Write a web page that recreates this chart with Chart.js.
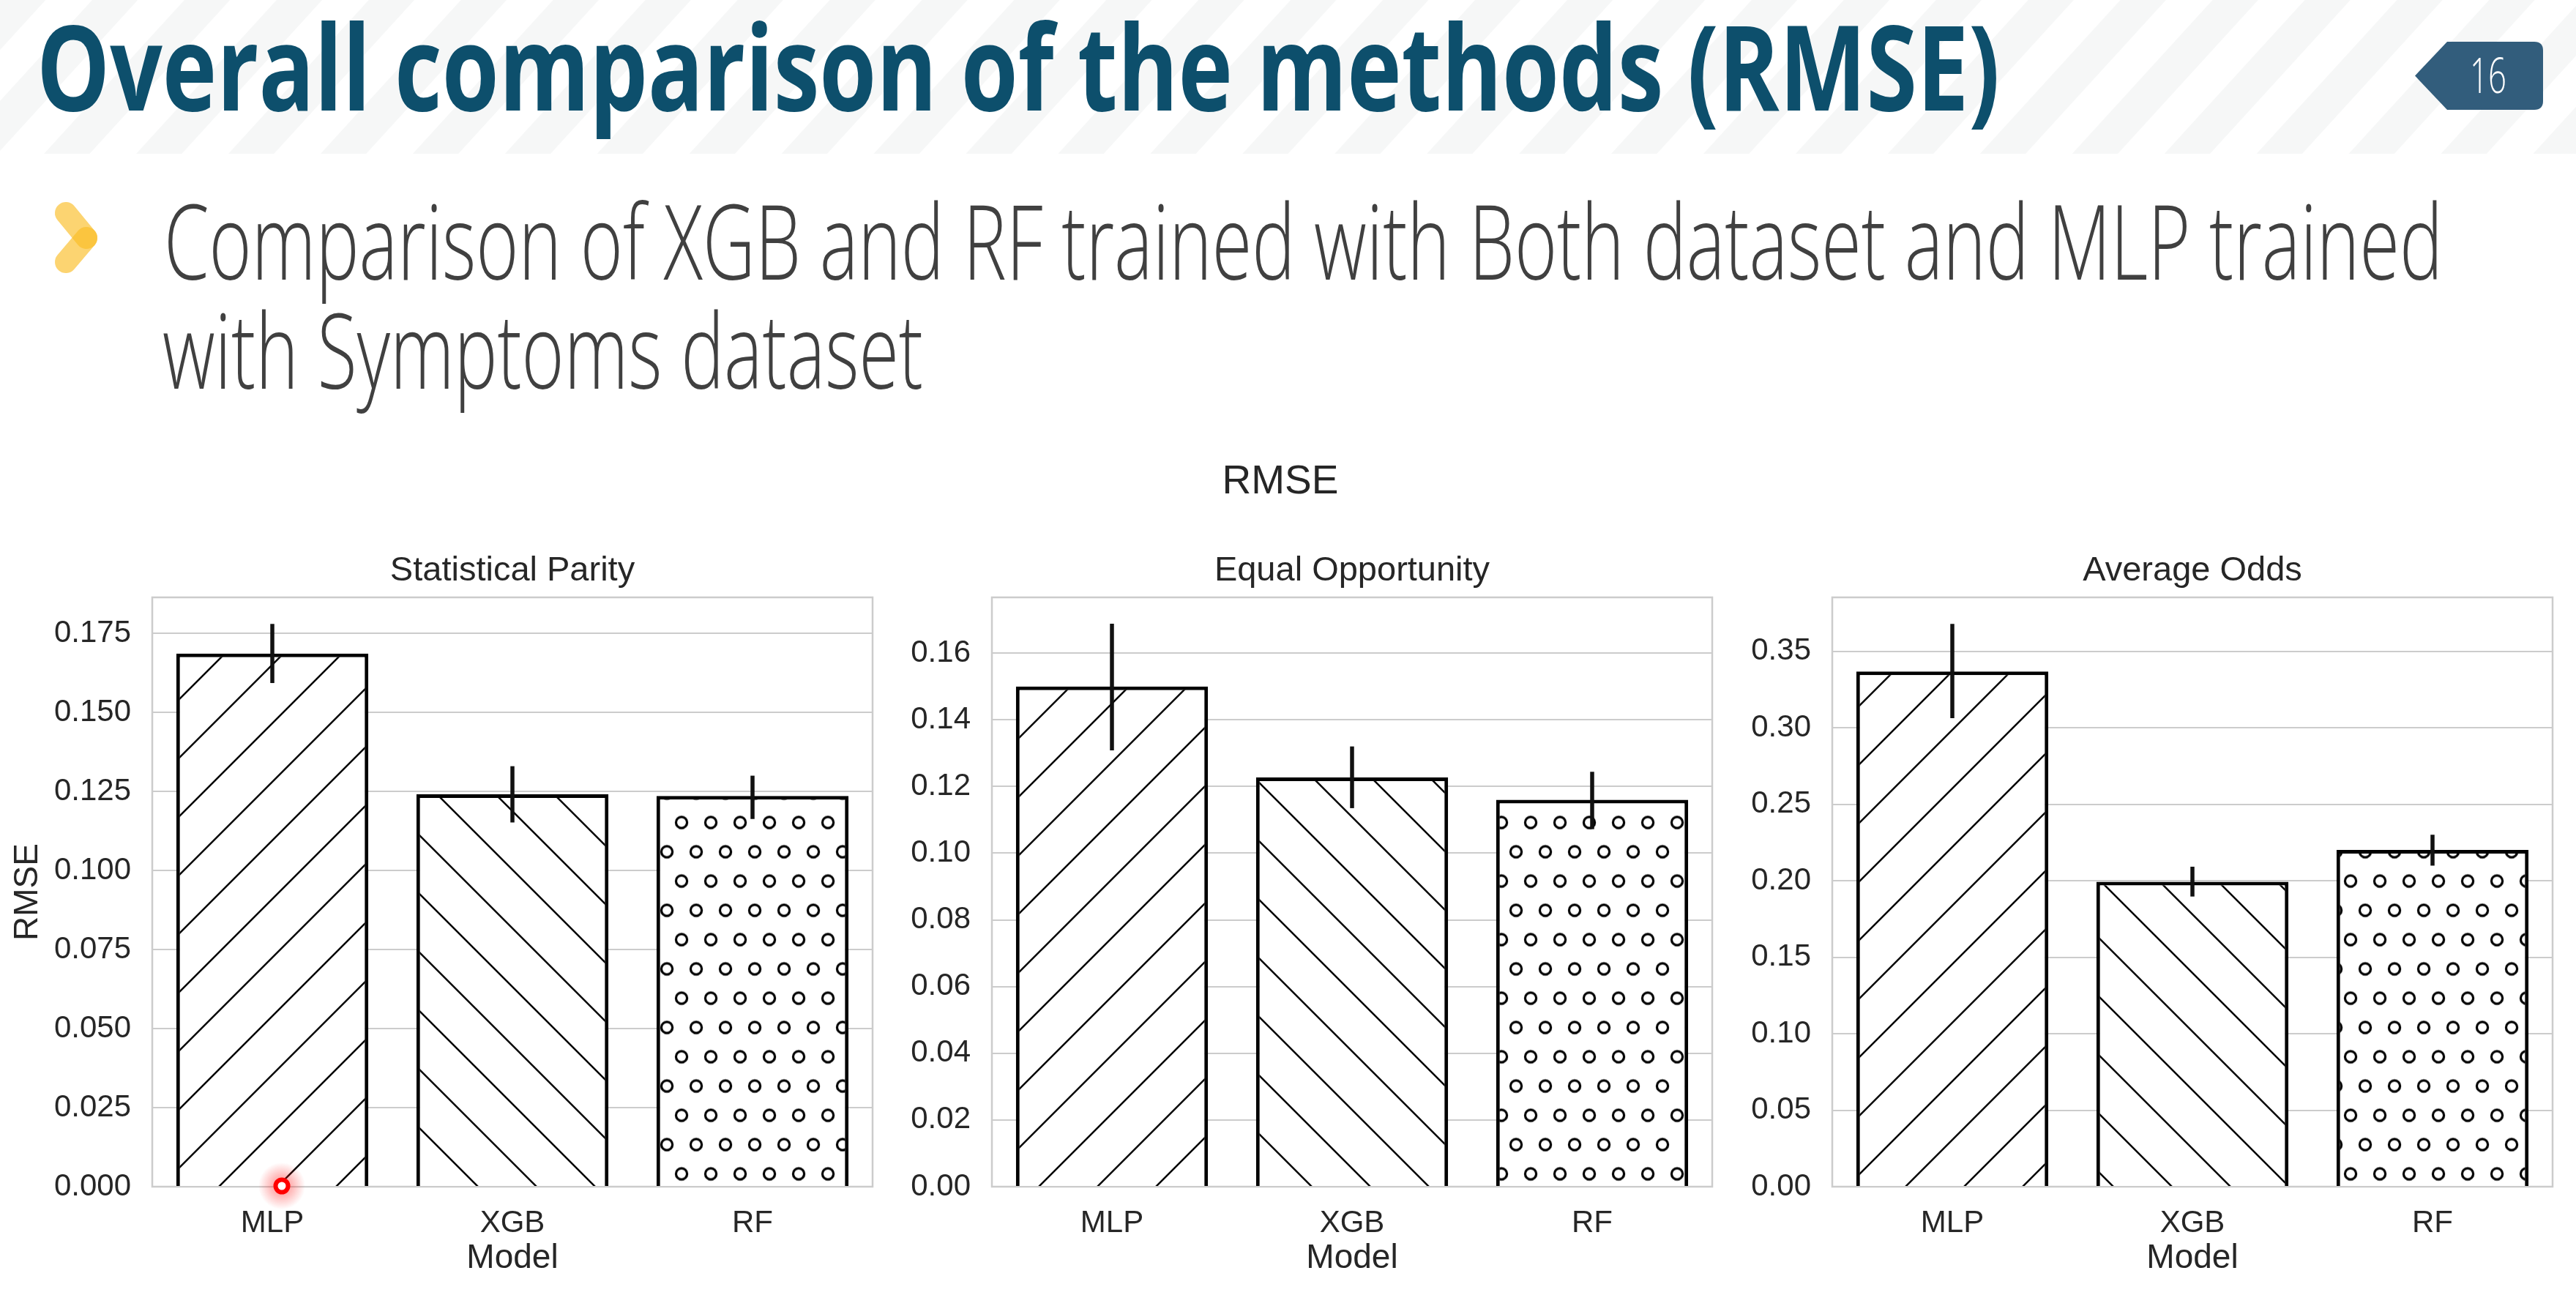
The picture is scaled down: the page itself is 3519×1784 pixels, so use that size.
<!DOCTYPE html>
<html>
<head>
<meta charset="utf-8">
<title>Overall comparison of the methods (RMSE)</title>
<script src="https://cdn.jsdelivr.net/npm/chart.js@4.4.1/dist/chart.umd.min.js"></script>
<style>
  html, body { margin: 0; padding: 0; background: #fff; }
  body { width: 3519px; height: 1784px; position: relative; overflow: hidden; }
  #slide, #pointer { position: absolute; left: 0; top: 0; }
  #pointer { pointer-events: none; }
  canvas { position: absolute; }
</style>
</head>
<body>
<svg id="slide" width="3519" height="1784">
  <defs>
    <pattern id="stripes" patternUnits="userSpaceOnUse" width="93" height="20" patternTransform="rotate(42.4)">
      <rect x="0" y="0" width="46" height="20" fill="#f6f7f7"></rect>
    </pattern>
  </defs>
  <rect x="0" y="0" width="3519" height="210" fill="url(#stripes)"></rect>
  <text x="50" y="151" font-family="'Open Sans', 'Liberation Sans', sans-serif" font-weight="700" font-size="162"
        fill="#0d4f6c" textLength="2682" lengthAdjust="spacingAndGlyphs">Overall comparison of the methods (RMSE)</text>
  <path d="M3343 57 L3462 57 Q3474 57 3474 69 L3474 138 Q3474 150 3462 150 L3343 150 L3299 103.5 Z" fill="#325d7c"></path>
  <text x="3374" y="127" font-family="'Open Sans', sans-serif" font-weight="300" font-size="67" fill="#fff"
        textLength="50" lengthAdjust="spacingAndGlyphs">16</text>
  <g stroke="#fbbd25" stroke-opacity="0.65" stroke-width="30" stroke-linecap="round" fill="none">
    <line x1="90" y1="291" x2="118" y2="325"></line>
    <line x1="118" y1="325" x2="90" y2="358"></line>
  </g>
  <g font-family="'Open Sans', sans-serif" font-weight="300" font-size="143" fill="#404040">
    <text x="224" y="382" textLength="3113" lengthAdjust="spacingAndGlyphs">Comparison of XGB and RF trained with Both dataset and MLP trained</text>
    <text x="222" y="531" textLength="1039" lengthAdjust="spacingAndGlyphs">with Symptoms dataset</text>
  </g>
  <text x="1749" y="674" text-anchor="middle" font-family="'Liberation Sans', Arial, sans-serif" font-size="55" fill="#262626">RMSE</text>
</svg>

<canvas id="chartSP"></canvas>
<canvas id="chartEO"></canvas>
<canvas id="chartAO"></canvas>

<svg id="pointer" width="3519" height="1784">
  <defs>
    <radialGradient id="glow">
      <stop offset="0" stop-color="#ff2020" stop-opacity="0.55"></stop>
      <stop offset="1" stop-color="#ff2020" stop-opacity="0"></stop>
    </radialGradient>
  </defs>
  <circle cx="385" cy="1620" r="32" fill="url(#glow)"></circle>
  <circle cx="385" cy="1620" r="8.5" fill="#fff" stroke="#f00" stroke-width="6"></circle>
</svg>

<script>
// Data
const models = ["MLP", "XGB", "RF"];

const spRmse = [0.1686, 0.1241, 0.1236];
const spLow = [0.1593, 0.1152, 0.1163];
const spHigh = [0.1780, 0.1330, 0.1300];
const spTicks = [0, 0.025, 0.05, 0.075, 0.1, 0.125, 0.15, 0.175];

const eoRmse = [0.1500, 0.1227, 0.1160];
const eoLow = [0.1308, 0.1135, 0.1072];
const eoHigh = [0.1688, 0.1320, 0.1244];
const eoTicks = [0, 0.02, 0.04, 0.06, 0.08, 0.1, 0.12, 0.14, 0.16];

const aoRmse = [0.3368, 0.1993, 0.2202];
const aoLow = [0.3063, 0.1897, 0.2099];
const aoHigh = [0.3680, 0.2092, 0.2301];
const aoTicks = [0, 0.05, 0.1, 0.15, 0.2, 0.25, 0.3, 0.35];

// Layout (page pixels)
const PLOT_TOP = 816;
const PLOT_W = 984;
const PLOT_H = 805;
const Y_AXIS_W = 200;
const X_AXIS_H = 130;
const TITLE_H = 64;
const RIGHT_PAD = 12;

const INK = "#262626";
const GRID = "#cccccc";

Chart.defaults.font.family = "'Liberation Sans', Arial, Helvetica, sans-serif";
Chart.defaults.color = INK;

// Hatch fills, anchored to page coordinates
function tile(w, h, draw) {
  const c = document.createElement("canvas");
  c.width = w;
  c.height = h;
  const g = c.getContext("2d");
  g.fillStyle = "#fff";
  g.fillRect(0, 0, w, h);
  g.strokeStyle = "#000";
  draw(g);
  return c;
}

function slashHatch(ctx, tx) {
  const t = tile(80, 80, (g) => {
    g.lineWidth = 2.5;
    g.beginPath();
    g.moveTo(-10, 10); g.lineTo(10, -10);
    g.moveTo(-10, 90); g.lineTo(90, -10);
    g.moveTo(70, 90); g.lineTo(90, 70);
    g.stroke();
  });
  const p = ctx.createPattern(t, "repeat");
  p.setTransform(new DOMMatrix([1, 0, 0, 1, tx, 0]));
  return p;
}

function backHatch(ctx, ty) {
  const t = tile(80, 80, (g) => {
    g.lineWidth = 2.5;
    g.beginPath();
    g.moveTo(-10, -10); g.lineTo(90, 90);
    g.moveTo(-10, 70); g.lineTo(10, 90);
    g.moveTo(70, -10); g.lineTo(90, 10);
    g.stroke();
  });
  const p = ctx.createPattern(t, "repeat");
  p.setTransform(new DOMMatrix([1, 0, 0, 1, 0, ty]));
  return p;
}

function circleHatch(ctx, tx, ty) {
  const t = tile(40, 80, (g) => {
    g.lineWidth = 3.2;
    g.beginPath();
    g.arc(10, 10, 7.6, 0, Math.PI * 2);
    g.moveTo(37.6, 50);
    g.arc(30, 50, 7.6, 0, Math.PI * 2);
    g.stroke();
  });
  const p = ctx.createPattern(t, "repeat");
  p.setTransform(new DOMMatrix([1, 0, 0, 1, tx, ty]));
  return p;
}

// Light grey box round the plot area
const frame = {
  id: "frame",
  beforeDatasetsDraw(chart) {
    const { ctx, chartArea: a } = chart;
    ctx.save();
    ctx.strokeStyle = GRID;
    ctx.lineWidth = 2.5;
    ctx.strokeRect(a.left, a.top, a.right - a.left, a.bottom - a.top);
    ctx.restore();
  },
};

// Vertical confidence interval lines
const errorBars = {
  id: "errorBars",
  afterDatasetsDraw(chart, args, opts) {
    const { ctx } = chart;
    const y = chart.scales.y;
    const bars = chart.getDatasetMeta(0).data;
    ctx.save();
    ctx.strokeStyle = "#111";
    ctx.lineWidth = 5.5;
    bars.forEach((bar, i) => {
      ctx.beginPath();
      ctx.moveTo(bar.x, y.getPixelForValue(opts.low[i]));
      ctx.lineTo(bar.x, y.getPixelForValue(opts.high[i]));
      ctx.stroke();
    });
    ctx.restore();
  },
};

function panelChart(id, cfg) {
  const canvas = document.getElementById(id);
  const cx = cfg.left - Y_AXIS_W;
  const cy = PLOT_TOP - TITLE_H;
  canvas.style.left = cx + "px";
  canvas.style.top = cy + "px";
  canvas.width = Y_AXIS_W + PLOT_W + RIGHT_PAD;
  canvas.height = TITLE_H + PLOT_H + X_AXIS_H;
  const ctx = canvas.getContext("2d");

  const fills = [
    slashHatch(ctx, cfg.slash - cx - cy),
    backHatch(ctx, cfg.back - cy + cx),
    circleHatch(ctx, 1 - cx, -6.5 - cy),
  ];

  return new Chart(canvas, {
    type: "bar",
    data: {
      labels: models,
      datasets: [
        {
          data: cfg.values,
          backgroundColor: fills,
          borderColor: "#000",
          borderWidth: 5,
          borderSkipped: "start",
          categoryPercentage: 0.8,
          barPercentage: 1,
        },
      ],
    },
    options: {
      responsive: false,
      animation: false,
      devicePixelRatio: 1,
      layout: { padding: { left: 0, right: RIGHT_PAD, top: 0, bottom: 0 } },
      plugins: {
        legend: { display: false },
        tooltip: { enabled: false },
        title: {
          display: true,
          fullSize: false,
          text: cfg.title,
          color: INK,
          font: { size: 47, weight: "normal" },
          padding: { top: 0, bottom: TITLE_H - 47 * 1.2 },
        },
        errorBars: { low: cfg.low, high: cfg.high },
      },
      scales: {
        x: {
          grid: { display: false },
          border: { display: false },
          ticks: { color: INK, font: { size: 42 }, padding: 17.6 },
          title: {
            display: true,
            text: "Model",
            color: INK,
            font: { size: 46 },
            padding: { top: 0, bottom: 4 },
          },
          afterFit: (s) => { s.height = X_AXIS_H; },
        },
        y: {
          min: 0,
          max: cfg.max,
          grid: { color: GRID, lineWidth: 2, drawTicks: false },
          border: { display: false },
          ticks: {
            color: INK,
            font: { size: 42 },
            padding: 29,
            callback: (v) => Number(v).toFixed(cfg.decimals),
          },
          afterBuildTicks: (s) => { s.ticks = cfg.ticks.map((v) => ({ value: v })); },
          title: {
            display: !!cfg.ylabel,
            text: cfg.ylabel,
            color: INK,
            font: { size: 46 },
            padding: { top: 2.5, bottom: 0 },
          },
          afterFit: (s) => { s.width = Y_AXIS_W; },
        },
      },
    },
    plugins: [frame, errorBars],
  });
}

panelChart("chartSP", {
  left: 208, title: "Statistical Parity", ylabel: "RMSE",
  values: spRmse, low: spLow, high: spHigh, ticks: spTicks, max: 0.1864, decimals: 3,
  slash: 0, back: 8,
});

panelChart("chartEO", {
  left: 1355, title: "Equal Opportunity", ylabel: "",
  values: eoRmse, low: eoLow, high: eoHigh, ticks: eoTicks, max: 0.1767, decimals: 2,
  slash: 0, back: 69,
});

panelChart("chartAO", {
  left: 2503, title: "Average Odds", ylabel: "",
  values: aoRmse, low: aoLow, high: aoHigh, ticks: aoTicks, max: 0.3853, decimals: 2,
  slash: 64, back: 14,
});
</script>
</body>
</html>
